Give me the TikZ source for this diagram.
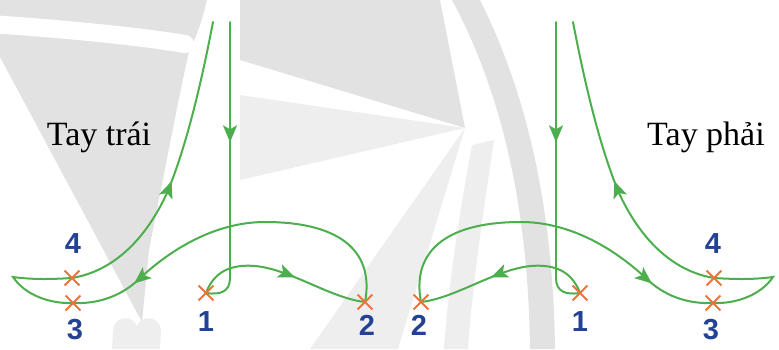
\documentclass[tikz,border=0pt]{standalone}
\usepackage{fontspec}
\setmainfont{Liberation Serif}
\newfontfamily\digitfont{Liberation Sans}
\usetikzlibrary{arrows.meta,decorations.markings,shapes.misc}
\definecolor{lgreen}{RGB}{76,174,76}
\definecolor{xorange}{RGB}{236,116,58}
\definecolor{dblue}{RGB}{36,66,148}
\definecolor{wmA}{RGB}{226,226,226}
\definecolor{wmB}{RGB}{238,238,238}
\tikzset{
  stroke/.style={draw=lgreen, line width=2pt, line cap=round},
  arrowmark/.style={postaction={decorate,decoration={markings,mark=at position #1 with {\arrow{Stealth[length=17pt,width=14pt,inset=4pt]}}}}},
  xcross/.style={cross out, draw=xorange, line width=1.8pt, minimum size=13pt, inner sep=0pt},
  digit/.style={text=dblue, font=\digitfont\bfseries\fontsize{29}{29}\selectfont, inner sep=0pt},
  title/.style={anchor=base, font=\fontsize{34}{34}\selectfont, inner sep=0pt}
}
\newcommand\drawhand[1]{%
  \coordinate (#1top) at (230,22);
  \coordinate (#1bend) at (230,278);
  \coordinate (#1p1) at (206,293);
  \coordinate (#1p2) at (365,302);
  \coordinate (#1p3) at (73,303);
  \coordinate (#1tip) at (13,277);
  \coordinate (#1p4) at (72,278);
  \coordinate (#1end) at (213,22);
  \draw[stroke, arrowmark=0.47] (#1top) -- (#1bend);
  \draw[stroke] (#1bend) .. controls (230,292) and (220,295) .. (#1p1);
  \draw[stroke, arrowmark=0.58] (#1p1) .. controls (214,272) and (230,264) .. (255,266) .. controls (290,269) and (330,298) .. (#1p2);
  \draw[stroke, arrowmark=0.82] (#1p2) .. controls (374,255) and (345,222) .. (265,222) .. controls (225,222) and (180,240) .. (137,281) .. controls (118,298) and (95,304) .. (#1p3);
  \draw[stroke] (#1p3) .. controls (50,304) and (25,295) .. (#1tip) .. controls (35,280) and (55,279) .. (#1p4);
  \draw[stroke, arrowmark=0.47] (#1p4) .. controls (120,270) and (150,230) .. (167,193) .. controls (185,150) and (200,90) .. (#1end);
  \node[xcross] (#1x1) at (#1p1) {};
  \node[xcross] (#1x2) at (#1p2) {};
  \node[xcross] (#1x3) at (#1p3) {};
  \node[xcross] (#1x4) at (#1p4) {};
  \node[digit] (#1l1) at (206,322) {1};
  \node[digit] (#1l2) at (367,325) {2};
  \node[digit] (#1l3) at (75,330) {3};
  \node[digit] (#1l4) at (73,244) {4};
}
\begin{document}
\begin{tikzpicture}[x=1pt,y=-1pt]
\useasboundingbox (0,0) rectangle (779,349);
% faint watermark
\fill[wmA] (0,0) -- (207,0) .. controls (200,30) and (192,45) .. (189,52) .. controls (180,90) and (165,170) .. (149,250) -- (142,322) -- (0,57) -- cycle;
\draw[white, line width=18pt, line cap=round] (-10,24) .. controls (80,30) and (150,38) .. (185,44);
\fill[wmB] (112,349) -- (113,330) .. controls (114,316) and (133,314) .. (137,326) .. controls (141,314) and (160,316) .. (161,330) -- (160,349) -- cycle;
\fill[wmA] (240,0) -- (440,0) -- (465,128) -- (240,60) -- cycle;
\fill[wmB] (240,95) -- (465,128) -- (240,180) -- cycle;
\fill[wmB] (465,128) -- (398,349) -- (310,349) -- cycle;
\fill[wmA] (452,0) .. controls (495,80) and (528,190) .. (530,349) -- (555,349) .. controls (553,190) and (520,80) .. (480,0) -- cycle;
\fill[wmB] (472,145) .. controls (458,220) and (448,290) .. (444,349) -- (468,349) .. controls (472,290) and (482,220) .. (494,140) -- cycle;
% left hand
\drawhand{L}
% right hand (mirror image)
\begin{scope}[shift={(786,0)}, xscale=-1]
\drawhand{R}
\end{scope}
\node[title] (lt) at (99,145) {Tay trái};
\node[title] (rt) at (706,145) {Tay phải};
\end{tikzpicture}
\end{document}
